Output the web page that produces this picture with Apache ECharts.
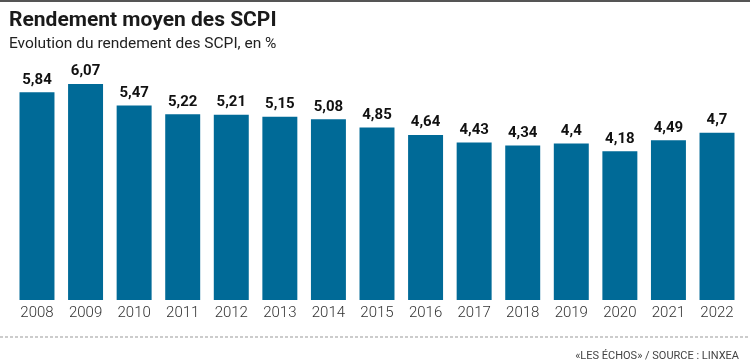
<!DOCTYPE html>
<html><head><meta charset="utf-8">
<script src="https://cdn.jsdelivr.net/npm/echarts@6/dist/echarts.min.js"></script>
<style>html,body{margin:0;padding:0;background:#fff}#c{width:750px;height:360px}</style>
</head><body><div id="c"></div>
<script>
const categories = ['2008','2009','2010','2011','2012','2013','2014','2015','2016','2017','2018','2019','2020','2021','2022'];
const values = [5.84, 6.07, 5.47, 5.22, 5.21, 5.15, 5.08, 4.85, 4.64, 4.43, 4.34, 4.4, 4.18, 4.49, 4.7];
const labels = ['5,84','6,07','5,47','5,22','5,21','5,15','5,08','4,85','4,64','4,43','4,34','4,4','4,18','4,49','4,7'];

const chart = echarts.init(document.getElementById('c'), null, {renderer:'canvas'});
chart.setOption({
  animation:false,
  backgroundColor:'#fff',
  title:[
    {text:'Rendement moyen des SCPI', left:4, top:5, textStyle:{fontFamily:'Roboto', fontWeight:'bold', fontSize:21, color:'#1a1a1a'}},
    {text:'Evolution du rendement des SCPI, en %', left:4, top:31, textStyle:{fontFamily:'Roboto', fontWeight:'normal', fontSize:15.5, color:'#222'}},
    {text:'«LES ÉCHOS» / SOURCE : LINXEA', right:6, top:346, textStyle:{fontFamily:'Roboto', fontWeight:'normal', fontSize:11, color:'#444'}}
  ],
  graphic:[
    {type:'rect', shape:{x:0,y:0,width:750,height:2}, style:{fill:'#555'}},
    {type:'line', shape:{x1:0,y1:337,x2:750,y2:337}, style:{stroke:'#999', lineWidth:1, lineDash:[3,2]}}
  ],
  grid:{left:12.7, right:750-741.3, top:51, bottom:60, containLabel:false},
  xAxis:{type:'category', data:categories, axisLine:{show:false}, axisTick:{show:false},
    axisLabel:{fontFamily:'Roboto', fontWeight:300, fontSize:15, color:'#333', margin:6}},
  yAxis:{type:'value', min:0, max:7, show:false, splitLine:{show:false}},
  series:[{type:'bar', data:values, barCategoryGap:'28%', itemStyle:{color:'#006a97'},
    label:{show:true, position:'top', distance:5, formatter:p=>labels[p.dataIndex],
      fontFamily:'Roboto', fontWeight:'bold', fontSize:15, color:'#111'}}]
});
</script></body></html>
